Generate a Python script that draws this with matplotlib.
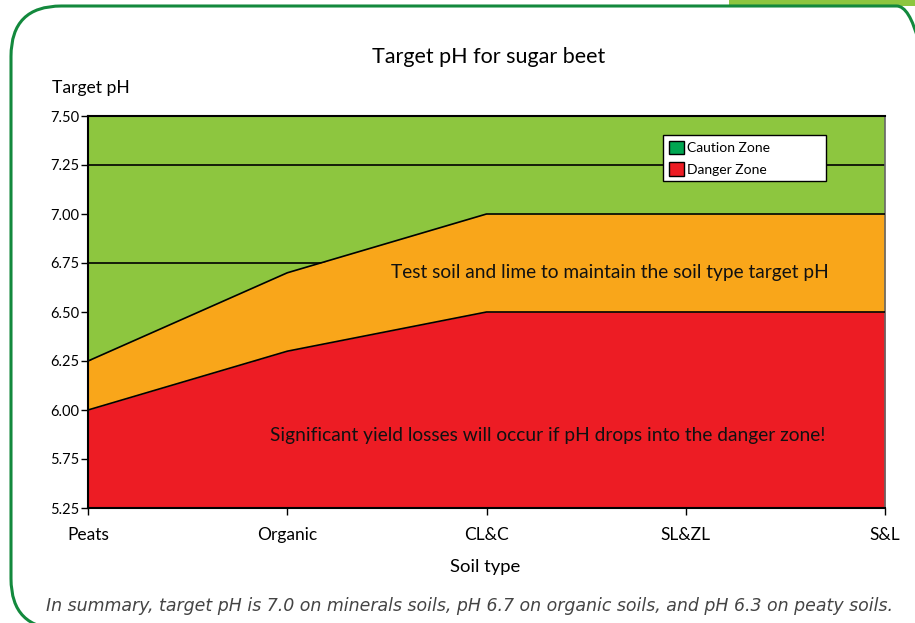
import matplotlib.pyplot as plt
from matplotlib.patches import FancyBboxPatch, Rectangle, Patch

# data
soil_types = ["Peats", "Organic", "CL&C", "SL&ZL", "S&L"]
danger_top = [6.00, 6.30, 6.50, 6.50, 6.50]    # top of red zone
target_top = [6.25, 6.70, 7.00, 7.00, 7.00]    # top of orange band
y_ticks = [5.50, 5.75, 6.00, 6.25, 6.50, 6.75, 7.00, 7.25, 7.50]
# the source axis labels its bottom tick "5.25"
y_tick_labels = ["5.25", "5.75", "6.00", "6.25", "6.50", "6.75", "7.00", "7.25", "7.50"]
grid_lines = [5.75, 6.25, 6.75, 7.25]

C_GREEN = "#8dc63f"
C_ORANGE = "#f9a61a"
C_RED = "#ed1c24"
C_CAUTION = "#00a651"
C_FRAME = "#13893d"

FONT = ["Lato", "DejaVu Sans"]
plt.rcParams["font.family"] = FONT

fig = plt.figure(figsize=(9.15, 6.23), dpi=100)
fig.patch.set_facecolor("white")

# ── outer rounded frame + tab ────────────────────────────────────────────────
fig.patches.append(Rectangle((729 / 915, 1 - 6 / 623), 1 - 729 / 915, 6 / 623,
                             transform=fig.transFigure, facecolor=C_GREEN,
                             edgecolor="none", zorder=0))
frame = FancyBboxPatch((11 / 915, -6 / 623), 0.985 - 11 / 915 + 0.05, 1,
                       boxstyle="round,pad=0,rounding_size=0.055",
                       transform=fig.transFigure, facecolor="none",
                       edgecolor=C_FRAME, lw=2.2, zorder=1,
                       mutation_aspect=915 / 623)
fig.patches.append(frame)

# ── axes ─────────────────────────────────────────────────────────────────────
ax = fig.add_axes([88 / 915, 1 - 508 / 623, 797 / 915, 392 / 623])
ax.set_facecolor(C_GREEN)
x = list(range(len(soil_types)))
ax.set_xlim(0, len(soil_types) - 1)
ax.set_ylim(y_ticks[0], y_ticks[-1])

for g in grid_lines:
    ax.axhline(g, color="black", lw=1.2, zorder=1)

ax.fill_between(x, danger_top, target_top, color=C_ORANGE, zorder=2, lw=0)
ax.fill_between(x, y_ticks[0], danger_top, color=C_RED, zorder=2, lw=0)
ax.plot(x, target_top, color="black", lw=1.2, zorder=3)
ax.plot(x, danger_top, color="black", lw=1.2, zorder=3)

ax.set_yticks(y_ticks)
ax.set_yticklabels(y_tick_labels)
ax.set_xticks(x)
ax.set_xticklabels(soil_types)
ax.tick_params(axis="y", length=5, width=1, labelsize=10.5, pad=1)
ax.tick_params(axis="x", length=5, width=1, labelsize=12.5, pad=9)

for side in ["left", "bottom", "top"]:
    ax.spines[side].set_color("black")
    ax.spines[side].set_linewidth(1.5)
ax.spines["right"].set_color("#666666")
ax.spines["right"].set_linewidth(1.2)

ax.text((610 - 88) / 797 * 4, 6.70,
        "Test soil and lime to maintain the soil type target pH",
        ha="center", va="center", fontsize=13.8, color="#111111", zorder=4)
ax.text((548 - 88) / 797 * 4, 5.87,
        "Significant yield losses will occur if pH drops into the danger zone!",
        ha="center", va="center", fontsize=13.8, color="#111111", zorder=4)

legend_handles = [Patch(facecolor=C_CAUTION, edgecolor="black", label="Caution Zone"),
                  Patch(facecolor=C_RED, edgecolor="black", label="Danger Zone")]
leg_x0, leg_w = (663 - 88) / 797, 163 / 797
leg_top, leg_h = (508 - 135) / 392, 52 / 392
leg = ax.legend(handles=legend_handles, loc="upper left", mode="expand",
                bbox_to_anchor=(leg_x0, leg_top - leg_h, leg_w, leg_h),
                fontsize=10, frameon=True, fancybox=False, handlelength=1.1,
                handleheight=1.1, handletextpad=0.25, borderpad=0.4,
                labelspacing=0.6, borderaxespad=0, framealpha=1,
                facecolor="white")
leg.get_frame().set_edgecolor("black")
leg.get_frame().set_linewidth(1.0)
leg.set_zorder(5)

# ── titles / labels ──────────────────────────────────────────────────────────
fig.text(489 / 915, 1 - 57 / 623, "Target pH for sugar beet", ha="center",
         va="center", fontsize=15.5)
fig.text(52 / 915, 1 - 88 / 623, "Target pH", ha="left", va="center",
         fontsize=12.6)
fig.text(485 / 915, 1 - 567 / 623, "Soil type", ha="center", va="center",
         fontsize=13.3)
fig.text(470 / 915, 1 - 606 / 623,
         "In summary, target pH is 7.0 on minerals soils, pH 6.7 on organic soils, "
         "and pH 6.3 on peaty soils.",
         ha="center", va="center", fontsize=12.5, style="italic",
         color="#444444", family=["Liberation Sans Narrow", "DejaVu Sans"])

plt.savefig("out.png", dpi=100, facecolor=fig.get_facecolor())
